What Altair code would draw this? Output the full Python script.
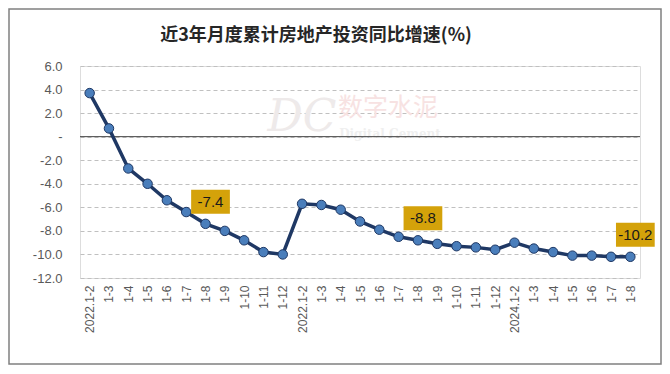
import altair as alt
import pandas as pd

labels = ["2022.1-2", "1-3", "1-4", "1-5", "1-6", "1-7", "1-8", "1-9", "1-10", "1-11", "1-12",
          "2022.1-2", "1-3", "1-4", "1-5", "1-6", "1-7", "1-8", "1-9", "1-10", "1-11", "1-12",
          "2024.1-2", "1-3", "1-4", "1-5", "1-6", "1-7", "1-8"]
values = [3.7, 0.7, -2.7, -4.0, -5.4, -6.4, -7.4, -8.0, -8.8, -9.8, -10.0,
          -5.7, -5.8, -6.2, -7.2, -7.9, -8.5, -8.8, -9.1, -9.3, -9.4, -9.6,
          -9.0, -9.5, -9.8, -10.1, -10.1, -10.2, -10.2]
annot_idx = [6, 17, 28]
y_ticks = [-12, -10, -8, -6, -4, -2, 0, 2, 4, 6]
title = "近3年月度累计房地产投资同比增速(%)"

df = pd.DataFrame({"i": list(range(len(values))), "v": values})
ann = pd.DataFrame({"i": annot_idx, "v": [values[k] for k in annot_idx],
                    "t": [f"{values[k]:.1f}" for k in annot_idx]})

label_expr = "[" + ",".join(f"'{l}'" for l in labels) + "][datum.value]"

x = alt.X("i:O", scale=alt.Scale(type="point", padding=0.5),
          axis=alt.Axis(title=None, labelExpr=label_expr, labelAngle=270, labelFontSize=12,
                        labelColor="#595959", labelFont="Liberation Sans", ticks=False,
                        domain=False, grid=False, labelPadding=7, labelOverlap=False))
yaxis = alt.Axis(title=None, values=y_ticks,
                 labelExpr="datum.value == 0 ? '-' : (datum.value < 0 ? '-' + format(-datum.value, '.1f') : format(datum.value, '.1f'))",
                 labelFontSize=13, labelColor="#595959", labelFont="Liberation Sans",
                 ticks=False, domain=False, grid=True, gridColor="#C0C0C0",
                 gridDash=[4, 3], gridWidth=1, labelPadding=18, labelOverlap=False)
yscale = alt.Scale(domain=[-12, 6], nice=False)
y = alt.Y("v:Q", scale=yscale, axis=yaxis)

base = alt.Chart(df)

one = alt.Chart(pd.DataFrame({"a": [0]}))

frame = one.mark_rect(filled=False, stroke="#808080", strokeWidth=1.5).encode(
    x=alt.value(-71), x2=alt.value(581), y=alt.value(-57), y2=alt.value(298))

title_mark = one.mark_text(text=title, font="Noto Sans CJK SC", fontSize=18, fontWeight="bold",
                           color="#262626", baseline="middle").encode(
    x=alt.value(236), y=alt.value(-30))

wm_dc = one.mark_text(text="DC", font="DejaVu Serif", fontSize=44, fontStyle="italic",
                      color="#EEEAEA").encode(x=alt.value(222), y=alt.value(52))
wm_cn = one.mark_text(text="数字水泥", font="Noto Sans CJK SC", fontSize=25,
                      color="#F7E2E2").encode(x=alt.value(308), y=alt.value(42))
wm_en = one.mark_text(text="Digital Cement", font="DejaVu Serif", fontSize=12, fontWeight="bold",
                      color="#EFEFEF").encode(x=alt.value(310), y=alt.value(68))

zero = alt.Chart(pd.DataFrame({"v": [0]})).mark_rule(color="#404040", strokeWidth=1).encode(
    y=alt.Y("v:Q", scale=yscale, axis=yaxis))

line = base.mark_line(color="#1F3864", strokeWidth=3.5).encode(x=x, y=y)
pts = base.mark_point(filled=True, size=90, fill="#4A7EBB", stroke="#1F3864",
                      strokeWidth=1, opacity=1).encode(x=x, y=y)

boxes = alt.Chart(ann).mark_point(shape="M-1,-0.62H1V0.62H-1Z", size=1500, filled=True,
                                  fill="#D4A20A", opacity=1, strokeWidth=0,
                                  xOffset=5, yOffset=-22).encode(x=x, y=y)
texts = alt.Chart(ann).mark_text(font="Liberation Sans", fontSize=15, color="#1a1a1a",
                                 dx=5, dy=-22).encode(x=x, y=y, text="t:N")

chart = alt.layer(frame, title_mark, wm_dc, wm_cn, wm_en, zero, line, pts, boxes, texts).properties(
    width=560, height=212,
    padding={"left": 72, "top": 58, "right": 22, "bottom": 88},
    autosize=alt.AutoSizeParams(type="none"),
).configure_view(stroke=None).configure(background="white")

chart.save("out.html", embed_options={"renderer": "svg", "actions": False})
